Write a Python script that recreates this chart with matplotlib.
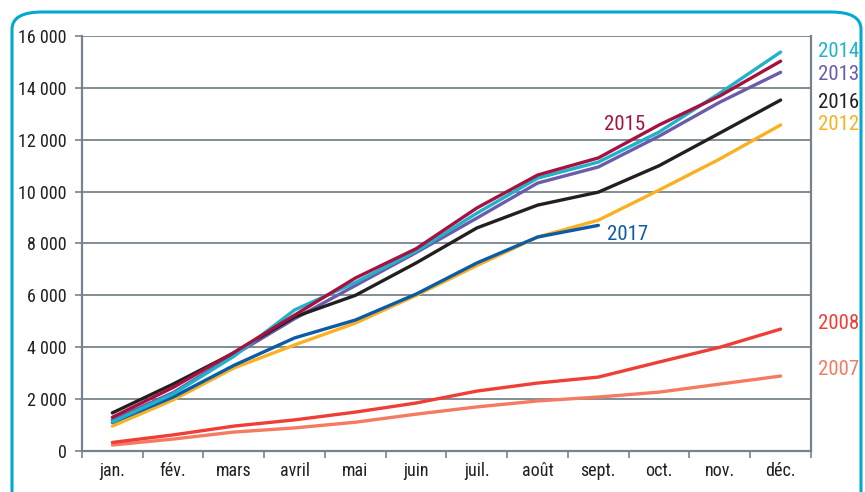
import matplotlib
matplotlib.use("Agg")
import matplotlib.pyplot as plt
from matplotlib.patches import FancyBboxPatch
from matplotlib import font_manager

months = ["jan.", "fév.", "mars", "avril", "mai", "juin",
          "juil.", "août", "sept.", "oct.", "nov.", "déc."]

y2007 = [230, 460, 730, 890, 1110, 1420, 1700, 1930, 2080, 2270, 2580, 2890]
y2008 = [330, 620, 960, 1200, 1500, 1850, 2310, 2620, 2850, 3430, 4000, 4700]
y2012 = [960, 1970, 3200, 4090, 4930, 6000, 7150, 8250, 8900, 10060, 11260, 12570]
y2013 = [1200, 2250, 3700, 5100, 6380, 7650, 8980, 10330, 10950, 12140, 13450, 14600]
y2014 = [1120, 2200, 3650, 5440, 6500, 7700, 9170, 10520, 11140, 12300, 13800, 15380]
y2015 = [1300, 2450, 3800, 5240, 6670, 7800, 9370, 10640, 11300, 12570, 13690, 15030]
y2016 = [1470, 2580, 3780, 5170, 6000, 7250, 8600, 9480, 9980, 11000, 12260, 13530]
y2017 = [1100, 2080, 3300, 4360, 5050, 6050, 7250, 8250, 8700]

yticks = [0, 2000, 4000, 6000, 8000, 10000, 12000, 14000, 16000]
ytick_labels = ["0", "2 000", "4 000", "6 000", "8 000", "10 000",
                "12 000", "14 000", "16 000"]

# look for a condensed face, else fall back to Liberation Sans
names = {f.name for f in font_manager.fontManager.ttflist}
font = "Liberation Sans"
for cand in ["Liberation Sans Narrow", "Roboto Condensed", "Open Sans Condensed",
             "DejaVu Sans Condensed", "Noto Sans Condensed"]:
    if cand in names:
        font = cand
        break
plt.rcParams["font.family"] = [font, "DejaVu Sans"]
narrow = font != "Liberation Sans"
tsize = 13 if narrow else 12
lsize = 15 if narrow else 13

fig = plt.figure(figsize=(8.65, 4.92), dpi=100)
W, H = 865, 492

# rounded frame around the chart
frame = FancyBboxPatch((12 / W, -0.1), (849 / W), (480 / H) + 0.1,
                       boxstyle="round,pad=0,rounding_size=0.035",
                       transform=fig.transFigure, fill=False,
                       edgecolor="#00a9cf", linewidth=2.2, clip_on=False)
fig.patches.append(frame)

ax = fig.add_axes([82 / W, 1 - 451 / H, (811 - 82) / W, (451 - 36) / H])

x = list(range(12))
grid_c = "#77838c"
series = [
    (y2007, "#f47b62"),
    (y2008, "#ee3e36"),
    (y2012, "#f9b122"),
    (y2017, "#0b5ba8"),
    (y2013, "#6a5ca9"),
    (y2016, "#231f20"),
    (y2014, "#20b2cb"),
    (y2015, "#a5123f"),
]
for ys, c in series:
    ax.plot(x[:len(ys)], ys, color=c, linewidth=2.4, solid_capstyle="round", zorder=3)

ax.set_xlim(-0.5, 11.5)
ax.set_ylim(0, 16000)
ax.set_yticks(yticks)
ax.set_yticklabels(ytick_labels)
ax.set_xticks(x)
ax.set_xticklabels(months)
ax.set_xticks([i - 0.5 for i in range(13)], minor=True)
ax.tick_params(axis="x", which="major", length=0, pad=8, labelsize=tsize, colors="#231f20")
ax.tick_params(axis="x", which="minor", length=5, width=1.2, color=grid_c)
ax.tick_params(axis="y", length=5, width=1.2, color=grid_c, labelsize=tsize, pad=6)
for lbl in ax.get_yticklabels():
    lbl.set_color("#231f20")
ax.grid(axis="y", color=grid_c, linewidth=1.3, zorder=1)
for s in ["left", "right", "bottom"]:
    ax.spines[s].set_color(grid_c)
    ax.spines[s].set_linewidth(1.6)
ax.spines["top"].set_visible(False)

# series labels
lab = dict(fontsize=lsize, ha="left", va="center", transform=ax.transData, clip_on=False)
ax.text(11.62, 15400, "2014", color="#20b2cb", **lab)
ax.text(11.62, 14500, "2013", color="#6a5ca9", **lab)
ax.text(11.62, 13450, "2016", color="#231f20", **lab)
ax.text(11.62, 12570, "2012", color="#f9b122", **lab)
ax.text(11.62, 4920, "2008", color="#ee3e36", **lab)
ax.text(11.62, 3130, "2007", color="#f47b62", **lab)
ax.text(8.1, 12570, "2015", color="#a5123f", **lab)
ax.text(8.15, 8330, "2017", color="#0b5ba8", **lab)

fig.savefig("out.png", dpi=100)
